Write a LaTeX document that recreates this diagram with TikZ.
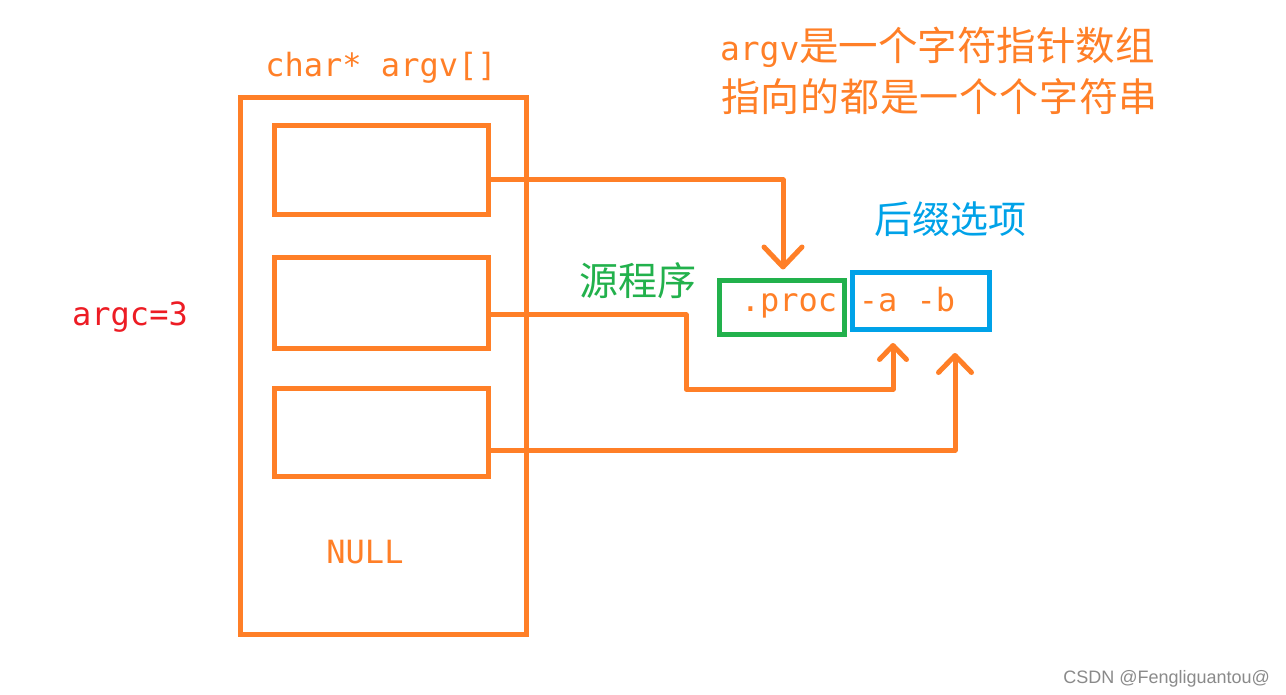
\documentclass[tikz,border=0pt]{standalone}
\usepackage{fontspec}
\newfontfamily\cjk{Noto Sans CJK SC}
\newfontfamily\cjkwide[LetterSpace=2]{Noto Sans CJK SC}
\newfontfamily\monofont{DejaVu Sans Mono}
\newfontfamily\wmfont{Liberation Sans}
\usetikzlibrary{arrows.meta}
\definecolor{porange}{HTML}{FF7F27}
\definecolor{pgreen}{HTML}{22B14C}
\definecolor{pblue}{HTML}{00A2E8}
\definecolor{pred}{HTML}{ED1C24}
\definecolor{wmgray}{HTML}{8A8A8A}
\begin{document}
\begin{tikzpicture}[x=1pt,y=-1pt,
  box/.style={draw=porange, line width=5pt, inner sep=0pt},
  lbl/.style={inner sep=0pt, outer sep=0pt},
  mono/.style={lbl, font=\monofont\fontsize{32}{32}\selectfont},
  link/.style={draw=porange, line width=5pt, line cap=round, line join=round},
  bigtip/.style={-{Straight Barb[length=20pt,width=38pt,round]}},
  midtip/.style={-{Straight Barb[length=14pt,width=27pt,round]}},
  longtip/.style={-{Straight Barb[length=17pt,width=33pt,round]}}
]
\fill[white] (0,0) rectangle (1286,695);
\useasboundingbox (0,0) rectangle (1286,695);

% array of pointers
\node[box, minimum width=286pt, minimum height=536pt] (outer) at (383,366) {};
\node[box, minimum width=214pt, minimum height=89pt] (box1) at (381,170.5) {};
\node[box, minimum width=214pt, minimum height=90pt] (box2) at (381,303) {};
\node[box, minimum width=214pt, minimum height=88pt] (box3) at (381,432) {};
\node[mono, text=porange, anchor=base] (title) at (381,77) {char* argv[]};
\node[mono, text=porange, anchor=base] (null) at (365,563) {NULL};
\node[mono, text=pred, anchor=base] (argc) at (130,325) {argc=3};

% strings
\node[draw=pgreen, line width=5pt, inner sep=0pt, minimum width=125pt, minimum height=53pt] (green) at (781.5,307.5) {};
\node[draw=pblue, line width=5pt, inner sep=0pt, minimum width=137pt, minimum height=56pt] (blue) at (920.5,301) {};
\node[mono, text=porange, anchor=base] (proc) at (789,312) {.proc};
\node[mono, text=porange, anchor=base] (opts) at (907,312) {-a -b};

% labels
\node[lbl, text=pgreen, anchor=base west, font=\cjk\fontsize{39}{39}\selectfont] (src) at (579,295) {源程序};
\node[lbl, text=pblue, anchor=base west, font=\cjk\fontsize{38}{38}\selectfont] (suffix) at (874,234) {后缀选项};
\node[lbl, text=porange, anchor=base west] (note1) at (720,61)
  {{\monofont\fontsize{33}{33}\selectfont argv}{\cjk\fontsize{39.5}{39.5}\selectfont 是一个字符指针数组}};
\node[lbl, text=porange, anchor=base west, font=\cjkwide\fontsize{39}{39}\selectfont] (note2) at (721,112) {指向的都是一个个字符串};
\node[lbl, text=wmgray, anchor=base east, font=\wmfont\fontsize{18}{18}\selectfont] (wm) at (1270,683) {CSDN @Fengliguantou@};

% connectors
\coordinate (bend2) at (686,389);
\draw[link, bigtip] ([yshift=-9.5pt]box1.east) -| ([xshift=1.5pt,yshift=9pt]green.north);
\draw[link, midtip] ([yshift=-12pt]box2.east) -| (bend2) -| ([xshift=-27.5pt,yshift=-11.5pt]blue.south);
\draw[link, longtip] ([yshift=-18pt]box3.east) -| ([xshift=34.5pt,yshift=-21.5pt]blue.south);
\end{tikzpicture}
\end{document}
